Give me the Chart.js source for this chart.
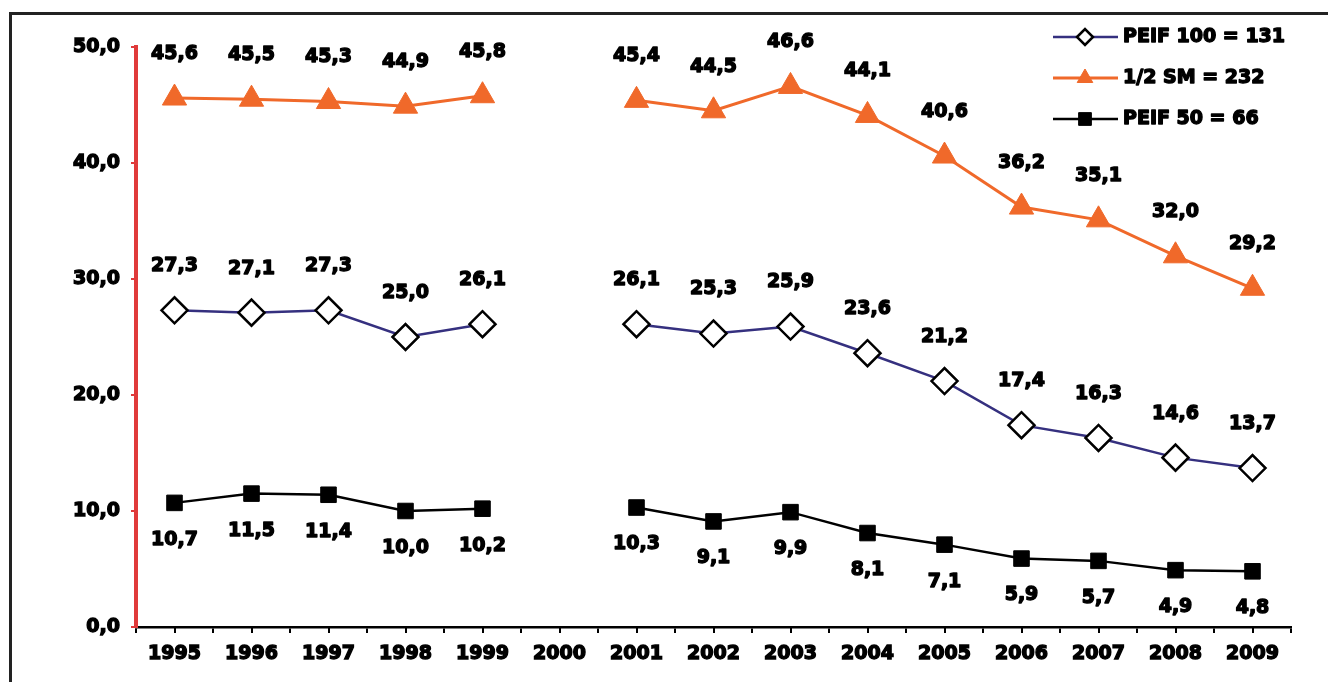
<!DOCTYPE html>
<html>
<head>
<meta charset="utf-8">
<title>PEIF / SM</title>
<script src="https://cdn.jsdelivr.net/npm/chart.js@4.4.1/dist/chart.umd.min.js"></script>
<style>
  html, body { margin: 0; padding: 0; background: #fff; }
  #wrap { width: 1328px; height: 682px; }
</style>
</head>
<body>
<div id="wrap"><canvas id="chart" width="1328" height="682"></canvas></div>
<script>
// Series, one value per year (2000 has no data)
const years = ['1995', '1996', '1997', '1998', '1999', '2000', '2001', '2002',
               '2003', '2004', '2005', '2006', '2007', '2008', '2009'];
const peif100 = [27.3, 27.1, 27.3, 25.0, 26.1, null, 26.1, 25.3, 25.9, 23.6, 21.2, 17.4, 16.3, 14.6, 13.7];
const halfSm  = [45.6, 45.5, 45.3, 44.9, 45.8, null, 45.4, 44.5, 46.6, 44.1, 40.6, 36.2, 35.1, 32.0, 29.2];
const peif50  = [10.7, 11.5, 11.4, 10.0, 10.2, null, 10.3, 9.1, 9.9, 8.1, 7.1, 5.9, 5.7, 4.9, 4.8];
const seriesNames = ['PEIF 100 = 131', '1/2 SM = 232', 'PEIF 50 = 66'];
const yMin = 0;
const yMax = 50;
const yStep = 10;

const FONT = 'bold 19px "DejaVu Sans"';
const TEXT_STROKE = 1.4;
const fmt = v => v.toFixed(1).replace('.', ',');

// heavy black text: fill plus a thin stroke of the same colour
function heavyText(ctx, str, x, y) {
    ctx.lineWidth = TEXT_STROKE;
    ctx.strokeStyle = '#000';
    ctx.lineJoin = 'round';
    ctx.strokeText(str, x, y);
    ctx.fillText(str, x, y);
}

// white page + the thin box around the whole graphic
const frame = {
    id: 'frame',
    beforeDraw(chart) {
        const ctx = chart.ctx;
        ctx.save();
        ctx.fillStyle = '#fff';
        ctx.fillRect(0, 0, chart.width, chart.height);
        ctx.strokeStyle = '#222';
        ctx.lineWidth = 3;
        ctx.strokeRect(10.5, 13.5, 1400, 800);
        ctx.restore();
    }
};

// minor ticks under each category centre
const centreTicks = {
    id: 'centreTicks',
    afterDraw(chart) {
        const x = chart.scales.x;
        const ctx = chart.ctx;
        ctx.save();
        ctx.strokeStyle = '#000';
        ctx.lineWidth = 2;
        years.forEach((_, i) => {
            const px = Math.round(x.getPixelForValue(i));
            ctx.beginPath();
            ctx.moveTo(px, x.top);
            ctx.lineTo(px, x.top + 6);
            ctx.stroke();
        });
        ctx.restore();
    }
};

// value labels above / below each point
const valueLabels = {
    id: 'valueLabels',
    afterDatasetsDraw(chart) {
        const ctx = chart.ctx;
        ctx.save();
        ctx.font = FONT;
        ctx.fillStyle = '#000';
        ctx.textAlign = 'center';
        ctx.textBaseline = 'middle';
        chart.data.datasets.forEach((ds, i) => {
            chart.getDatasetMeta(i).data.forEach((pt, j) => {
                const v = ds.data[j];
                if (v === null || v === undefined) return;
                heavyText(ctx, fmt(v), pt.x, pt.y + ds.labelOffset);
            });
        });
        ctx.restore();
    }
};

// legend in the top right corner: line sample with marker, then name
const cornerLegend = {
    id: 'cornerLegend',
    afterDraw(chart) {
        const ctx = chart.ctx;
        const area = chart.chartArea;
        const x0 = area.right - 238;
        ctx.save();
        chart.data.datasets.forEach((ds, i) => {
            const y = area.top - 10 + i * 41;
            ctx.strokeStyle = ds.borderColor;
            ctx.lineWidth = ds.borderWidth;
            ctx.beginPath();
            ctx.moveTo(x0, y);
            ctx.lineTo(x0 + 65, y);
            ctx.stroke();
            ctx.fillStyle = ds.pointBackgroundColor;
            ctx.strokeStyle = ds.pointBorderColor;
            ctx.lineWidth = ds.pointBorderWidth;
            Chart.helpers.drawPoint(ctx, {
                pointStyle: ds.pointStyle,
                radius: ds.legendRadius,
                borderWidth: ds.pointBorderWidth,
                rotation: 0
            }, x0 + 32, y);
            ctx.font = FONT;
            ctx.fillStyle = '#000';
            ctx.textAlign = 'left';
            ctx.textBaseline = 'middle';
            heavyText(ctx, ds.label, x0 + 70, y);
        });
        ctx.restore();
    }
};

const tickFont = { family: 'DejaVu Sans', size: 19, weight: 'bold' };

new Chart(document.getElementById('chart'), {
    type: 'line',
    data: {
        labels: years,
        datasets: [
            {
                label: seriesNames[0],
                data: peif100,
                borderColor: '#35307f',
                borderWidth: 2.5,
                pointStyle: 'rectRot',
                pointRadius: 13,
                pointBackgroundColor: '#fff',
                pointBorderColor: '#000',
                pointBorderWidth: 2.5,
                legendRadius: 8,
                labelOffset: -44
            },
            {
                label: seriesNames[1],
                data: halfSm,
                borderColor: '#f0692a',
                borderWidth: 3,
                pointStyle: 'triangle',
                pointRadius: 14,
                pointBackgroundColor: '#f0692a',
                pointBorderColor: '#f0692a',
                pointBorderWidth: 1,
                legendRadius: 9,
                labelOffset: -44
            },
            {
                label: seriesNames[2],
                data: peif50,
                borderColor: '#000',
                borderWidth: 2.5,
                pointStyle: 'rect',
                pointRadius: 11,
                pointBackgroundColor: '#000',
                pointBorderColor: '#000',
                pointBorderWidth: 1,
                legendRadius: 9,
                labelOffset: 37
            }
        ]
    },
    options: {
        responsive: false,
        animation: false,
        spanGaps: false,
        layout: { padding: { left: 0, top: 47, right: 37, bottom: 0 } },
        plugins: {
            legend: { display: false },
            tooltip: { enabled: false }
        },
        elements: { line: { tension: 0 } },
        scales: {
            x: {
                offset: true,
                afterFit: scale => { scale.height = 55; },
                grid: {
                    offset: true,
                    drawOnChartArea: false,
                    drawTicks: true,
                    tickLength: 6,
                    color: '#000',
                    lineWidth: 2
                },
                border: { color: '#000', width: 2.5 },
                ticks: {
                    color: '#000',
                    font: tickFont,
                    textStrokeColor: '#000',
                    textStrokeWidth: TEXT_STROKE,
                    padding: 10,
                    maxRotation: 0,
                    autoSkip: false
                }
            },
            y: {
                min: yMin,
                max: yMax,
                afterFit: scale => { scale.width = 136; },
                grid: {
                    drawOnChartArea: false,
                    drawTicks: true,
                    tickLength: 5,
                    color: '#e03a3a',
                    lineWidth: 2
                },
                border: { color: '#e03a3a', width: 4 },
                ticks: {
                    stepSize: yStep,
                    color: '#000',
                    font: tickFont,
                    textStrokeColor: '#000',
                    textStrokeWidth: TEXT_STROKE,
                    padding: 11,
                    callback: v => fmt(v)
                }
            }
        }
    },
    plugins: [frame, centreTicks, valueLabels, cornerLegend]
});
</script>
</body>
</html>
